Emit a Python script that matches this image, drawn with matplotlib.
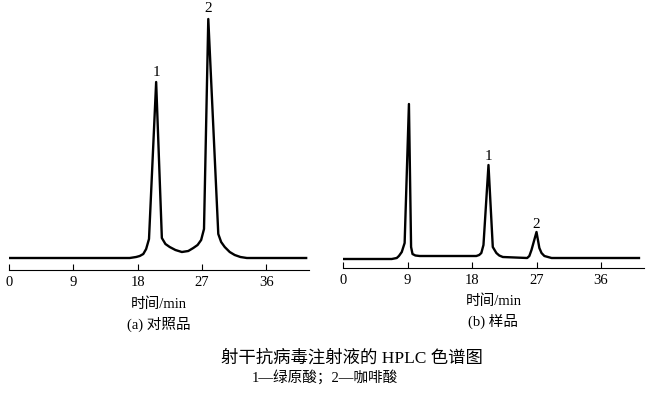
import matplotlib
matplotlib.use('Agg')
import matplotlib.pyplot as plt

plt.rcParams['font.family'] = ['Liberation Serif', 'Noto Sans CJK SC']

# (a) 对照品 — 保留时间 (min) 与响应值
ref_time = [0, 16.9, 17.8, 18.3, 18.8, 19.2, 19.6, 20.6, 21.4, 21.9, 22.5, 23.3, 24.2,
            25.1, 25.8, 26.4, 26.9, 27.3, 27.9, 29.3, 29.7, 30.2, 30.9, 31.6, 32.4, 33.3, 41.6]
ref_signal = [0, 0, 1, 2, 4, 9, 19, 176, 20, 14, 11, 8, 6,
              7, 10, 13, 18, 29, 239, 24, 16, 11, 6, 3, 1, 0, 0]

# (b) 样品
smp_time = [0, 6.8, 7.5, 7.8, 8.2, 8.6, 9.2, 9.5, 9.7, 10.1, 10.7, 18.6, 19.0, 19.3,
            19.6, 20.3, 20.9, 21.4, 21.8, 22.3, 25.7, 26.0, 26.3, 27.0, 27.4, 27.7,
            28.1, 29.1, 41.3]
smp_signal = [0, 0, 1, 3, 7, 16, 155, 12, 5, 3.5, 3, 3, 4, 6,
              14, 94, 12, 6, 3.5, 2, 1, 3, 9, 27, 11, 6,
              3, 1, 1]

ref_peaks = {'1': (20.6, 186), '2': (27.9, 249)}
smp_peaks = {'1': (20.3, 102), '2': (27.0, 35)}

ticks = [0, 9, 18, 27, 36]

W, H = 647, 396
fig = plt.figure(figsize=(W / 100, H / 100), dpi=100)


def panel(left_px, bottom_px, width_px, t, s, ybase, peaks, caption):
    ax = fig.add_axes([left_px / W, (H - bottom_px) / H, width_px / W, bottom_px / H])
    ax.plot(t, s, color='black', linewidth=1.7, solid_joinstyle='round')
    ax.set_xlim(0, 42)
    ax.set_ylim(ybase, ybase + bottom_px)
    for side in ['top', 'right', 'left']:
        ax.spines[side].set_visible(False)
    ax.spines['bottom'].set_linewidth(0.8)
    ax.set_yticks([])
    ax.set_xticks(ticks)
    ax.tick_params(axis='x', direction='in', length=4, width=0.8, labelsize=10.5, pad=4)
    for lab, (x, y) in peaks.items():
        ax.text(x, y, lab, ha='center', va='center', fontsize=11, clip_on=False)
    ax.text(0.5, -0.125, '时间/min', transform=ax.transAxes, ha='center', va='center',
            fontsize=10.5)
    ax.text(0.5, -0.2, caption, transform=ax.transAxes, ha='center', va='center',
            fontsize=10.5)
    return ax


panel(9, 270, 300, ref_time, ref_signal, -12, ref_peaks, '(a) 对照品')
panel(343, 268, 301, smp_time, smp_signal, -9, smp_peaks, '(b) 样品')

fig.text(352 / W, 1 - 358 / H, '射干抗病毒注射液的 HPLC 色谱图', ha='center', va='center',
         fontsize=12.5)
fig.text(325 / W, 1 - 377 / H, '1—绿原酸；2—咖啡酸', ha='center', va='center',
         fontsize=10.5)

fig.savefig('out.png', dpi=100)
